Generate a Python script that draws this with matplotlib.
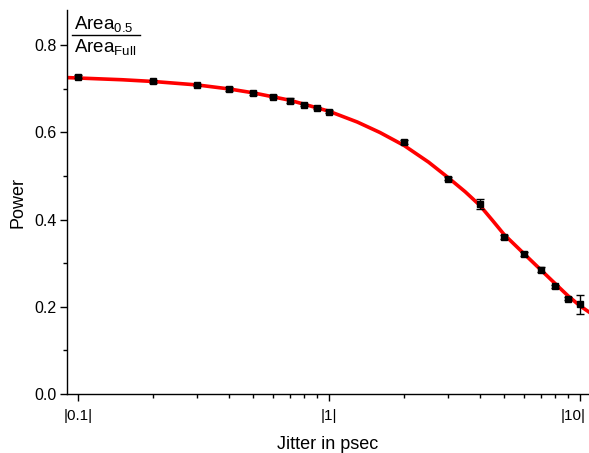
import matplotlib
matplotlib.use("Agg")
import matplotlib.pyplot as plt
from matplotlib.lines import Line2D
import matplotlib.transforms as mtransforms
import numpy as np

plt.rcParams['font.family'] = ['Liberation Sans', 'DejaVu Sans']
plt.rcParams['mathtext.fontset'] = 'custom'
plt.rcParams['mathtext.rm'] = 'Liberation Sans'
plt.rcParams['mathtext.it'] = 'Liberation Sans'

# measured data
jitter = [0.1, 0.2, 0.3, 0.4, 0.5, 0.6, 0.7, 0.8, 0.9, 1.0,
          2.0, 3.0, 4.0, 5.0, 6.0, 7.0, 8.0, 9.0, 10.0]
power = [0.728, 0.717, 0.709, 0.700, 0.690, 0.682, 0.673, 0.663, 0.656, 0.648,
         0.578, 0.494, 0.436, 0.360, 0.321, 0.285, 0.247, 0.219, 0.206]
power_err = [0.003, 0.003, 0.003, 0.004, 0.003, 0.003, 0.005, 0.003, 0.003, 0.003,
             0.005, 0.003, 0.012, 0.004, 0.004, 0.006, 0.004, 0.004, 0.022]

# fitted curve
fit_x = [0.09, 0.1, 0.15, 0.2, 0.3, 0.4, 0.5, 0.7, 1.0, 1.3, 1.6, 2.0, 2.5,
         3.0, 3.5, 4.0, 4.5, 5.0, 6.0, 7.0, 8.0, 9.0, 10.0, 10.9]
fit_y = [0.726, 0.725, 0.721, 0.717, 0.709, 0.700, 0.691, 0.674, 0.649, 0.624,
         0.600, 0.570, 0.532, 0.496, 0.464, 0.433, 0.398, 0.366, 0.322, 0.285,
         0.253, 0.225, 0.203, 0.188]

xtick_vals = [0.1, 1, 10]
xtick_labels = ['|0.1|', '|1|', '|10|']
ytick_vals = [0.0, 0.2, 0.4, 0.6, 0.8]
ytick_labels = ['0.0', '0.2', '0.4', '0.6', '0.8']

W, H = 589, 453
fig = plt.figure(figsize=(W / 100, H / 100), dpi=100)
ax = fig.add_axes([66.5 / W, 1 - 394 / H, (589 - 66.5) / W, (394 - 10) / H])

ax.plot(fit_x, fit_y, color='#ff0000', lw=2.6, zorder=2)
ax.errorbar(jitter, power, yerr=power_err, fmt='s', color='black',
            ms=5, capsize=3, elinewidth=1, capthick=1, zorder=3)

ax.set_xscale('log')
ax.set_xlim(0.0902, 10.9)
ax.set_ylim(0.0, 0.881)
ax.set_xticks(xtick_vals)
ax.set_xticklabels(xtick_labels)
ax.set_yticks(ytick_vals)
ax.set_yticklabels(ytick_labels)
ax.set_yticks([0.1, 0.3, 0.5, 0.7], minor=True)
ax.xaxis.set_minor_locator(matplotlib.ticker.LogLocator(base=10, subs=np.arange(2, 10)))
ax.xaxis.set_minor_formatter(matplotlib.ticker.NullFormatter())

for s in ['top', 'right']:
    ax.spines[s].set_visible(False)
for s in ['left', 'bottom']:
    ax.spines[s].set_linewidth(1.0)
ax.tick_params(axis='both', which='major', direction='out', length=5, width=1,
               labelsize=11.5)
ax.tick_params(axis='x', which='major', pad=6, labelsize=11)
ax.tick_params(axis='y', which='major', pad=2)
ax.tick_params(axis='both', which='minor', direction='out', length=3, width=1)

# keep the last x label inside the canvas
last = ax.get_xticklabels()[-1]
last.set_transform(last.get_transform() +
                   mtransforms.ScaledTranslation(-5 / 72, 0, fig.dpi_scale_trans))

ax.set_xlabel('Jitter in psec', fontsize=13, labelpad=9)
ax.set_ylabel('Power', fontsize=13, labelpad=6)

# ratio annotation
fx = lambda px: px / W
fy = lambda py: 1 - py / H
fig.text(fx(74), fy(29), r'Area$_{\mathrm{0.5}}$', fontsize=13.5,
         ha='left', va='baseline')
fig.add_artist(Line2D([fx(72), fx(140)], [fy(35), fy(35)], color='black', lw=1.0,
                      transform=fig.transFigure))
fig.text(fx(74), fy(52), r'Area$_{\mathrm{Full}}$', fontsize=13.5,
         ha='left', va='baseline')

fig.savefig('out.png', dpi=100)
